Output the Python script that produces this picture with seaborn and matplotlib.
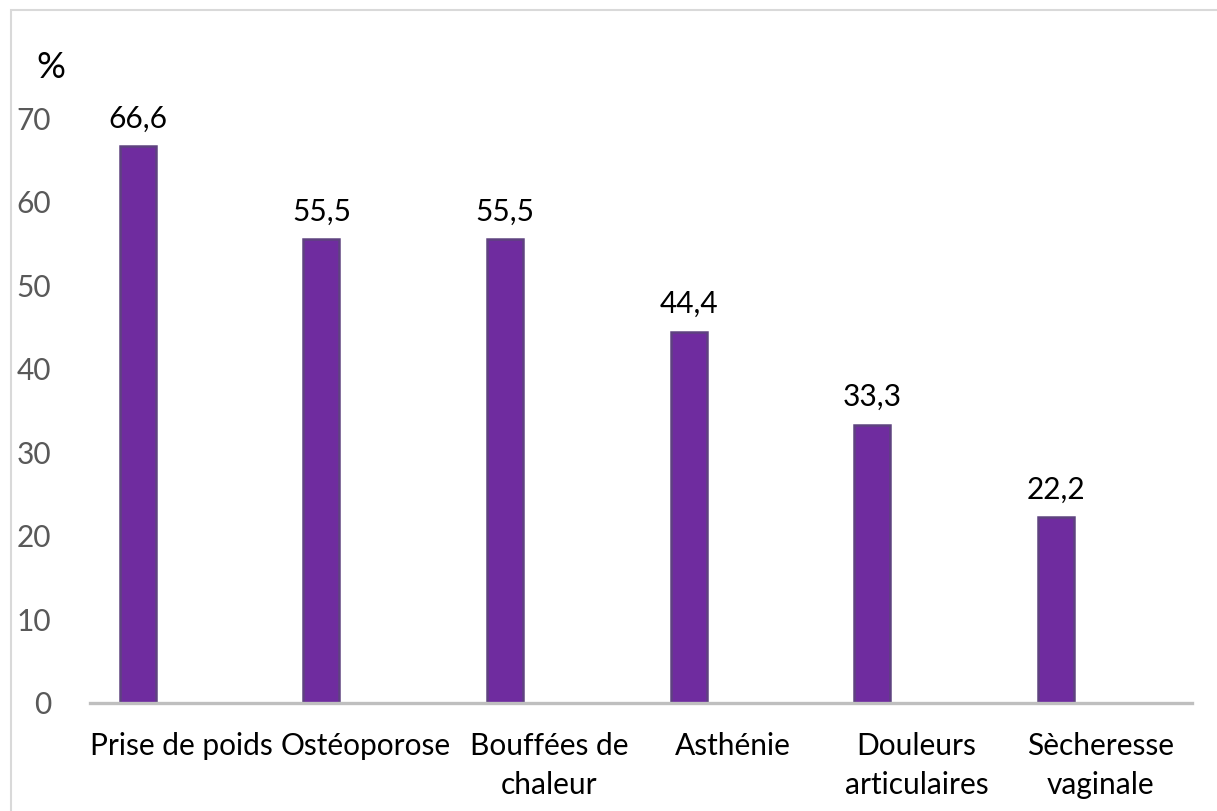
import matplotlib
matplotlib.use("Agg")
import matplotlib.pyplot as plt
import seaborn as sns
import pandas as pd
from matplotlib.patches import Rectangle

categories = ["Prise de poids", "Ostéoporose", "Bouffées de\nchaleur", "Asthénie",
              "Douleurs\narticulaires", "Sècheresse\nvaginale"]
values = [66.6, 55.5, 55.5, 44.4, 33.3, 22.2]
empty_series = [0, 0, 0, 0, 0, 0]
value_labels = ["66,6", "55,5", "55,5", "44,4", "33,3", "22,2"]
yticks = [0, 10, 20, 30, 40, 50, 60, 70]

sns.set_theme(style="white")
plt.rcParams['font.family'] = ['Lato', 'DejaVu Sans']

df = pd.DataFrame({
    "cat": categories * 2,
    "val": values + empty_series,
    "serie": ["S1"] * len(values) + ["S2"] * len(values),
})

fig = plt.figure(figsize=(12.17, 8.11), dpi=100)
ax = fig.add_axes([90 / 1217, 1 - 703 / 811, (1192 - 90) / 1217, (703 - 118) / 811])

sns.barplot(data=df, x="cat", y="val", hue="serie", hue_order=["S1", "S2"],
            order=categories, palette={"S1": "#6F2C9F", "S2": "#6F2C9F"},
            saturation=1, width=0.96, gap=0.59, errorbar=None, legend=False, ax=ax,
            edgecolor="#5E4280", linewidth=1.8)

# remove the empty second series bars
for p in list(ax.patches):
    if p.get_height() == 0:
        p.remove()

ax.set_ylim(0, 70)
ax.set_yticks(yticks)
ax.set_yticklabels([str(t) for t in yticks], color="#595959", fontsize=21.5)
ax.tick_params(axis="y", length=0, pad=28)
ax.tick_params(axis="x", length=0, pad=21, labelsize=21.5, labelcolor="black")
for t in ax.get_xticklabels():
    t.set_linespacing(1.45)
ax.set_xlabel("")
ax.set_ylabel("")
for s in ["top", "right", "left"]:
    ax.spines[s].set_visible(False)
ax.spines["bottom"].set_color("#BFBFBF")
ax.spines["bottom"].set_linewidth(2.4)
ax.set_xlim(-0.5, len(categories) - 0.5)

bars = sorted(ax.patches, key=lambda p: p.get_x())
for patch, lab in zip(bars, value_labels):
    x = patch.get_x() + patch.get_width() / 2
    h = patch.get_height()
    ax.annotate(lab, (x, h), xytext=(0, 10), textcoords="offset points",
                ha="center", va="bottom", fontsize=21.5, color="black")

fig.text(51 / 1217, 1 - 68 / 811, "%", ha="center", va="center", fontsize=26, color="black")
fig.patches.append(Rectangle((11 / 1217, -0.1), 1.2, 1 - 9.5 / 811 + 0.1,
                             transform=fig.transFigure, fill=False,
                             edgecolor="#D9D9D9", linewidth=1.5))

fig.savefig("out.png", dpi=100)
